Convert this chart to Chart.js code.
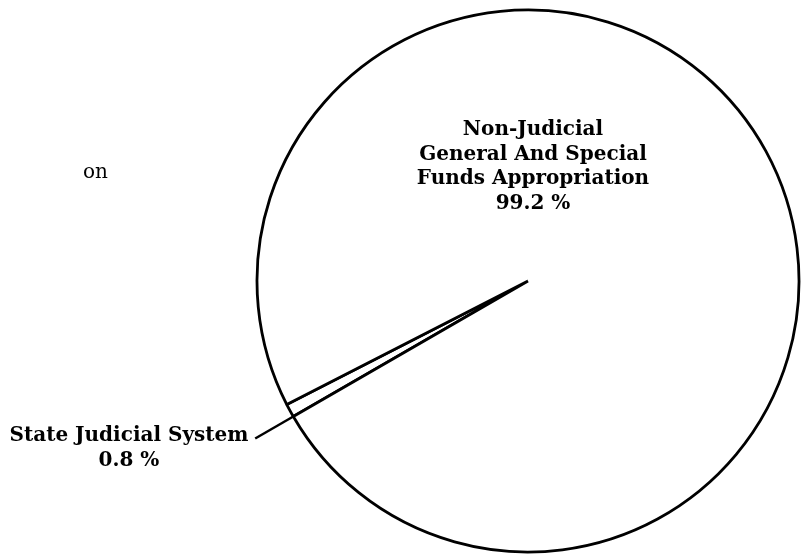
<!DOCTYPE html>
<html>
<head>
<meta charset="utf-8">
<script src="https://cdn.jsdelivr.net/npm/chart.js@4/dist/chart.umd.min.js"></script>
<style>
    body { margin: 0; background: #fff; }
    #wrap { position: relative; width: 801px; height: 555px; overflow: hidden; }
    canvas { position: absolute; left: 0; top: 0; }
    .lbl {
        position: absolute;
        font-family: "DejaVu Serif", "Liberation Serif", serif;
        font-weight: bold;
        font-size: 20px;
        line-height: 24.5px;
        color: #000;
        text-align: center;
        white-space: nowrap;
    }
    .frag { font-weight: normal; text-align: left; }
</style>
</head>
<body>
<div id="wrap">
    <canvas id="pieChart" width="801" height="555"></canvas>
    <div class="lbl frag" style="left:83px; top:159px;">on</div>
    <div class="lbl" id="bigLabel" style="left:383px; top:116px; width:300px;"></div>
    <div class="lbl" id="smallLabel" style="left:0px; top:422px; width:258px;"></div>
</div>
<script>
// Data
const labels = ['State Judicial System', 'Non-Judicial General And Special Funds Appropriation'];
const shares = [0.8, 99.2];
const labelLines = [
    ['State Judicial System', '0.8 %'],
    ['Non-Judicial', 'General And Special', 'Funds Appropriation', '99.2 %']
];

document.getElementById('smallLabel').innerHTML = labelLines[0].join('<br>');
document.getElementById('bigLabel').innerHTML = labelLines[1].join('<br>');

// leader line: continue the lower edge of the small slice out past the rim
const leaderLine = {
    id: 'leaderLine',
    afterDatasetsDraw(chart) {
        const arc = chart.getDatasetMeta(0).data[0];
        if (!arc) return;
        const { x, y, startAngle, outerRadius } = arc.getProps(['x', 'y', 'startAngle', 'outerRadius'], true);
        const ctx = chart.ctx;
        const r2 = outerRadius + 44;
        ctx.save();
        ctx.strokeStyle = '#000';
        ctx.lineWidth = 2.5;
        ctx.beginPath();
        ctx.moveTo(x + Math.cos(startAngle) * outerRadius, y + Math.sin(startAngle) * outerRadius);
        ctx.lineTo(x + Math.cos(startAngle) * r2, y + Math.sin(startAngle) * r2);
        ctx.stroke();
        ctx.restore();
    }
};

new Chart(document.getElementById('pieChart'), {
    type: 'pie',
    data: {
        labels: labels,
        datasets: [{
            data: shares,
            backgroundColor: '#fff',
            borderColor: '#000',
            borderWidth: 2.8
        }]
    },
    options: {
        responsive: false,
        animation: false,
        rotation: 240,
        radius: 271,
        layout: { padding: { left: 255, right: 0, top: 7, bottom: 0 } },
        plugins: {
            legend: { display: false },
            tooltip: { enabled: false }
        }
    },
    plugins: [leaderLine]
});
</script>
</body>
</html>
